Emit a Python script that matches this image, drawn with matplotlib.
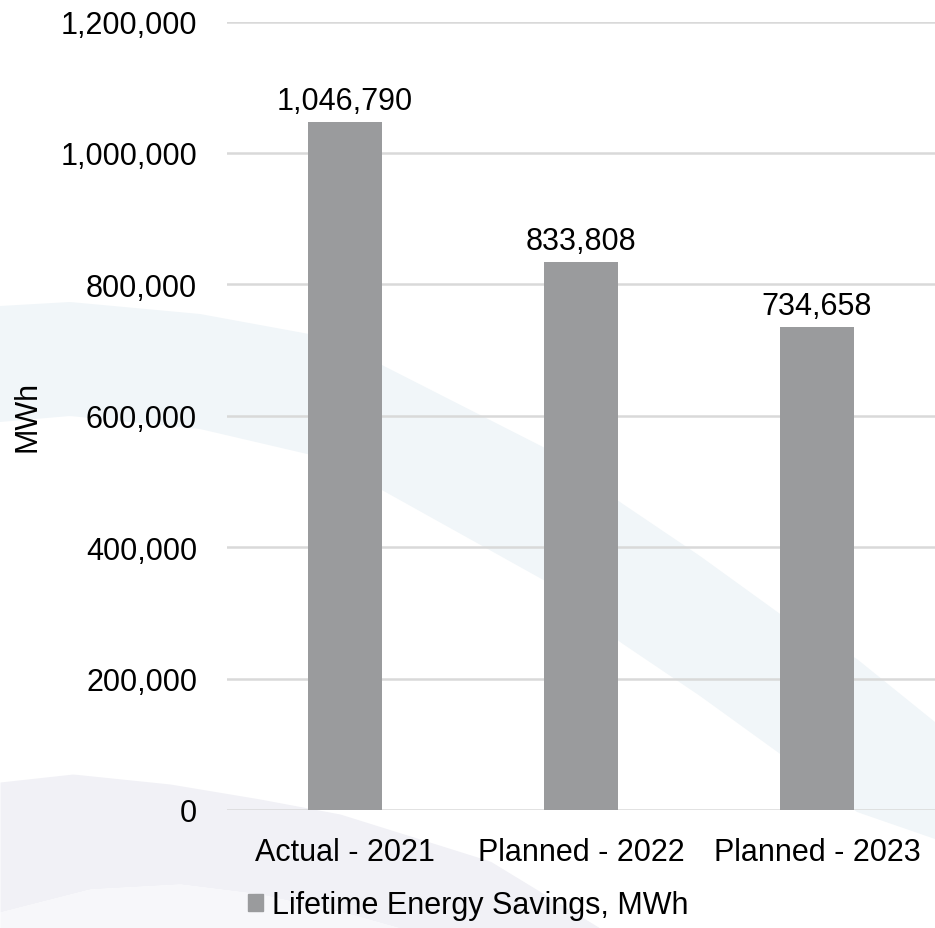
import numpy as np
import matplotlib.pyplot as plt
from matplotlib.ticker import FuncFormatter
from matplotlib.patches import Patch

plt.rcParams['font.family'] = ['Liberation Sans', 'DejaVu Sans']

# data
categories = ['Actual - 2021', 'Planned - 2022', 'Planned - 2023']
savings = [1046790, 833808, 734658]
series_name = 'Lifetime Energy Savings, MWh'

bar_color = '#9a9b9d'
grid_color = '#d9d9d9'
fs = 22

fig = plt.figure(figsize=(9.35, 9.29), dpi=100)

# faint background swooshes, in figure pixel coords
bg = fig.add_axes([0, 0, 1, 1], zorder=0)
bg.set_xlim(0, 935)
bg.set_ylim(929, 0)
bg.axis('off')

xs = np.linspace(0, 935, 300)
blue_top_x = [0, 70, 200, 320, 380, 547, 620, 700, 783, 857, 935]
blue_top_y = [307, 303, 315, 337, 365, 450, 503, 557, 617, 660, 723]
blue_bot_x = [0, 70, 200, 320, 380, 547, 620, 700, 783, 857, 935]
blue_bot_y = [423, 417, 430, 458, 490, 583, 643, 697, 757, 813, 840]
bg.fill_between(xs, np.interp(xs, blue_top_x, blue_top_y),
                np.interp(xs, blue_bot_x, blue_bot_y), color='#f1f6f9', lw=0)

lav_top_x = [0, 73, 170, 260, 340, 420, 490, 600]
lav_top_y = [783, 775, 785, 800, 815, 840, 862, 929]
lav_bot_x = [0, 90, 180, 260, 350, 400, 600]
lav_bot_y = [913, 890, 885, 895, 915, 929, 929]
xs2 = np.linspace(0, 600, 200)
bg.fill_between(xs2, np.interp(xs2, lav_top_x, lav_top_y),
                np.interp(xs2, lav_bot_x, lav_bot_y), color='#f1f1f6', lw=0)
bg.fill_between(xs2, np.interp(xs2, lav_bot_x, lav_bot_y), 929,
                color='#f7f7fa', lw=0)

# main chart
ax = fig.add_axes([227 / 935, 118 / 929, 708 / 935, 788.5 / 929], zorder=1)
ax.patch.set_alpha(0)
x = np.arange(len(categories))
bars = ax.bar(x, savings, width=0.31, color=bar_color, zorder=2)
for b, v in zip(bars, savings):
    ax.text(b.get_x() + b.get_width() / 2, v + 9000, f'{v:,}',
            ha='center', va='bottom', fontsize=fs, color='#000000')

ax.set_xlim(-0.5, 2.5)
ax.set_ylim(0, 1200000)
ax.set_yticks(np.arange(0, 1200001, 200000))
ax.yaxis.set_major_formatter(FuncFormatter(lambda v, p: f'{int(v):,}'))
ax.set_xticks(x)
ax.set_xticklabels(categories)
ax.tick_params(axis='both', length=0, labelsize=fs, labelcolor='#000000')
ax.tick_params(axis='y', pad=21.6)
ax.tick_params(axis='x', pad=19.5)
ax.yaxis.grid(True, color=grid_color, lw=1.8, zorder=0)
for s in ax.spines.values():
    s.set_visible(False)
ax.set_ylabel('MWh', fontsize=fs)
ax.yaxis.set_label_coords(-(227 - 43) / 708, 0.5)

fig.legend(handles=[Patch(color=bar_color, label=series_name)],
           loc='center left', bbox_to_anchor=(248 / 935, 1 - 906 / 929),
           frameon=False, fontsize=fs, handlelength=0.49, handleheight=0.49,
           handletextpad=0.3, borderpad=0, borderaxespad=0)

fig.savefig('out.png', dpi=100)
